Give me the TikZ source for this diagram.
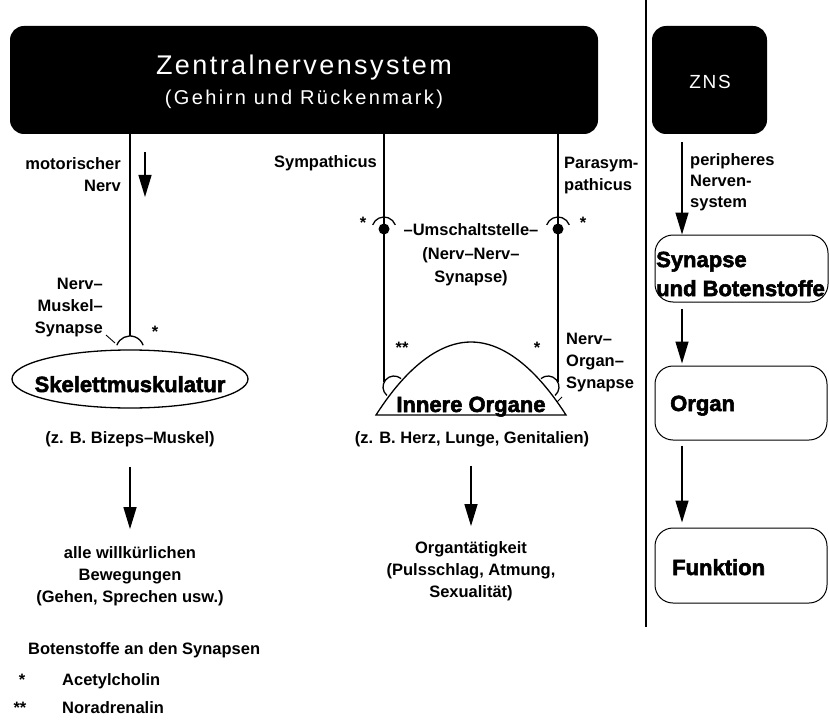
\documentclass[tikz,border=0pt]{standalone}
\usepackage{fontspec}
\setmainfont{Liberation Sans}
\newfontfamily\heavyfont{Liberation Sans}[BoldFeatures={FakeBold=2.5}]
\newfontfamily\titlefont{Liberation Sans}[LetterSpace=9]
\newfontfamily\subfont{Liberation Sans}[LetterSpace=12]
\usetikzlibrary{arrows.meta,shapes.geometric}
\begin{document}
\begin{tikzpicture}[x=1pt,y=-1pt,
  lbl/.style={font=\fontsize{16.5}{22}\selectfont\bfseries, inner sep=0pt},
  heavy/.style={font=\fontsize{22}{29}\heavyfont\bfseries, inner sep=0pt},
  nerve/.style={line width=1.3pt},
  thin/.style={line width=0.9pt},
  arr/.style={line width=1.4pt, -{Triangle[length=22pt,width=13pt]}},
  rbox/.style={draw, line width=1pt, rounded corners=18pt, inner sep=0pt},
  blackbox/.style={fill=black, rounded corners=14pt, inner sep=0pt},
]
\useasboundingbox (0,0) rectangle (829,722);

% ---------- central nervous system box ----------
\node[blackbox, minimum width=588pt, minimum height=108pt] (zns) at (304,80) {};
\node[text=white, font=\fontsize{27}{30}\titlefont, inner sep=0pt, anchor=base] (znsT) at (304,75) {Zentralnervensystem};
\node[text=white, font=\fontsize{20}{24}\subfont, inner sep=0pt, anchor=base] (znsS) at (304,105) {(Gehirn und Rückenmark)};

% ---------- left column: skeletal muscle ----------
\node[lbl, align=right, anchor=east] (motN) at (121,175) {motorischer\\Nerv};
\coordinate (mA1) at (145,152);
\coordinate (mA2) at (145,197);
\draw[arr] (mA1) -- (mA2);

\coordinate (mS) at (130,350);
\coordinate (mSt) at (130,336);
\draw[nerve] (zns.south -| mSt) -- (mSt);
\draw[nerve] ([shift={(200:14)}]mS) arc[start angle=200, end angle=340, radius=14];

\node[lbl, align=right, anchor=east] (mLab) at (103,308) {Nerv–\\Muskel–\\Synapse};
\coordinate (mTick1) at (106,335);
\coordinate (mTick2) at (115,343);
\draw[thin] (mTick1) -- (mTick2);
\node[lbl, anchor=base] (mStar) at (155,337) {*};

\node[draw, ellipse, line width=1.3pt, minimum width=236pt, minimum height=58pt, inner sep=0pt] (skel) at (130,379) {};
\node[heavy, anchor=base] (skelT) at (130,392) {Skelettmuskulatur};
\node[lbl, anchor=base] (skelEx) at (130,443) {(z. B. Bizeps–Muskel)};
\node[lbl, align=center] (bew) at (130,576) {alle willkürlichen\\Bewegungen\\(Gehen, Sprechen usw.)};
\draw[arr, shorten <=20pt, shorten >=17pt] (skelEx.south) -- (bew.north);

% ---------- middle column: inner organs ----------
\node[lbl, anchor=base east] (symp) at (377,167.5) {Sympathicus};
\node[lbl, align=left, anchor=west] (para) at (564,176) {Parasym-\\pathicus};

\coordinate (pL) at (376,415);
\coordinate (pT) at (471,342);
\coordinate (pR) at (566,415);
\draw[line width=1.3pt] (pL) parabola bend (pT) (pR) -- cycle;
\node[heavy, anchor=base] (orgT) at (471,412) {Innere Organe};

\coordinate (uL) at (384,229);
\coordinate (uR) at (558,229);
\coordinate (oL) at (394,387);
\coordinate (oR) at (548,387);
\coordinate (oLa) at ([shift={(205:11)}]oL);
\coordinate (oRa) at ([shift={(335:11)}]oR);
\draw[nerve] (zns.south -| oLa) -- (oLa);
\draw[nerve] (zns.south -| oRa) -- (oRa);
\fill (uL) circle[radius=5.5];
\fill (uR) circle[radius=5.5];
\draw[nerve] ([shift={(200:12)}]uL) arc[start angle=200, end angle=340, radius=12];
\draw[nerve] ([shift={(200:12)}]uR) arc[start angle=200, end angle=340, radius=12];
\draw[nerve] ([shift={(130:11)}]oL) arc[start angle=130, end angle=310, radius=11];
\draw[nerve] ([shift={(230:11)}]oR) arc[start angle=230, end angle=410, radius=11];

\node[lbl, anchor=base] (uStarL) at (363,228) {*};
\node[lbl, anchor=base] (uStarR) at (583,228) {*};
\node[lbl, anchor=base] (oStarL) at (402,353) {**};
\node[lbl, anchor=base] (oStarR) at (537,353) {*};

\node[lbl, align=center, font=\fontsize{16.5}{23.5}\selectfont\bfseries] (umsch) at (471,255) {–Umschaltstelle–\\(Nerv–Nerv–\\Synapse)};
\node[lbl, align=left, anchor=west] (noLab) at (566,363) {Nerv–\\Organ–\\Synapse};
\coordinate (oTick1) at (557,402);
\coordinate (oTick2) at (562,397);
\draw[thin] (oTick1) -- (oTick2);

\node[lbl, anchor=base] (orgEx) at (472,443) {(z. B. Herz, Lunge, Genitalien)};
\node[lbl, align=center] (orgAct) at (471,571) {Organtätigkeit\\(Pulsschlag, Atmung,\\Sexualität)};
\draw[arr, shorten <=19pt, shorten >=15pt] (orgEx.south -| orgAct) -- (orgAct.north);

% ---------- legend ----------
\node[lbl, anchor=base west] (leg) at (28,654.5) {Botenstoffe an den Synapsen};
\node[lbl, anchor=base] (leg1s) at (22,685.5) {*};
\node[lbl, anchor=base west] (leg1) at (62,685.5) {Acetylcholin};
\node[lbl, anchor=base] (leg2s) at (20,713.5) {**};
\node[lbl, anchor=base west] (leg2) at (62,713.5) {Noradrenalin};

% ---------- right panel ----------
\coordinate (sepT) at (646,0);
\coordinate (sepB) at (646,627);
\draw[line width=1.2pt] (sepT) -- (sepB);

\node[blackbox, minimum width=115pt, minimum height=108pt] (zns2) at (709.5,80) {};
\node[text=white, font=\fontsize{19}{22}\titlefont, inner sep=0pt, anchor=base] (zns2T) at (710,89) {ZNS};

\node[rbox, minimum width=173pt, minimum height=67pt] (syn) at (741.5,268.5) {};
\node[heavy, align=left, anchor=west] (synT) at (656,274) {Synapse\\und Botenstoffe};
\node[rbox, minimum width=172pt, minimum height=74pt] (org) at (741,403) {};
\node[heavy, anchor=base west] (orgT2) at (670,411) {Organ};
\node[rbox, minimum width=172pt, minimum height=75pt] (fkt) at (741,565.5) {};
\node[heavy, anchor=base west] (fktT) at (672,575) {Funktion};

\coordinate (rx) at (682,0);
\node[lbl, align=left, anchor=west, font=\fontsize{16.5}{21}\selectfont\bfseries] (pns) at (690,182.5) {peripheres\\Nerven-\\system};
\draw[arr, shorten <=8pt] (zns2.south -| rx) -- (syn.north -| rx);
\draw[arr, shorten <=6pt, shorten >=2pt] (syn.south -| rx) -- (org.north -| rx);
\draw[arr, shorten <=5pt, shorten >=5pt] (org.south -| rx) -- (fkt.north -| rx);
\end{tikzpicture}
\end{document}
